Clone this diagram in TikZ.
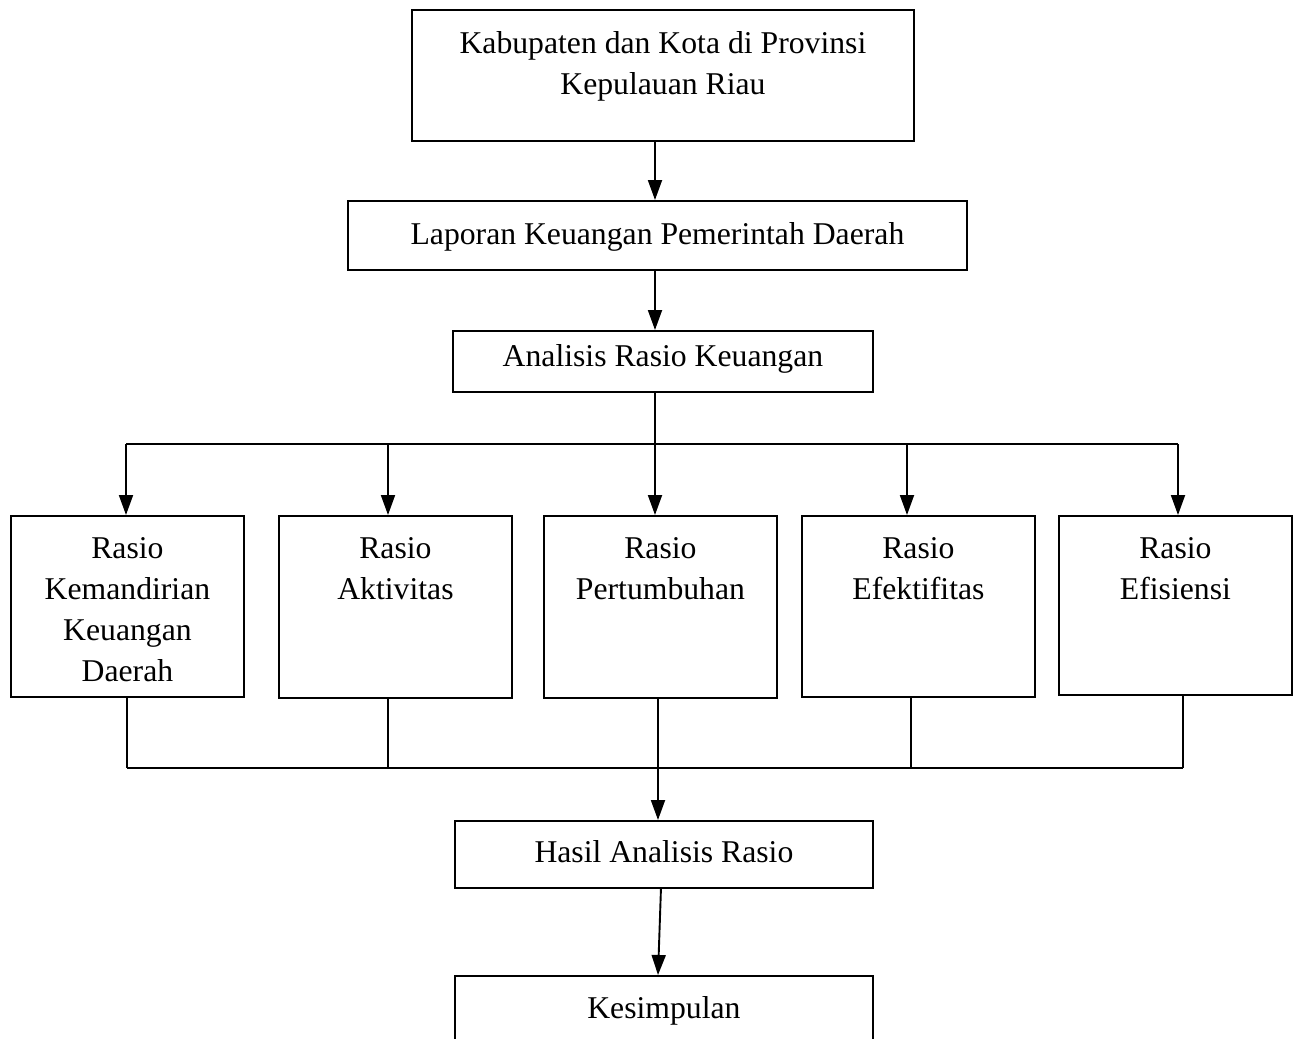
\documentclass[tikz,border=0pt]{standalone}
\usepackage{fontspec}
\setmainfont{Liberation Serif}
\usetikzlibrary{arrows.meta}
\newcommand{\boxtext}[4]{\parbox[c][#2pt][t]{#1pt}{\centering\fontsize{31.7}{41}\selectfont\rule{0pt}{#3pt}#4}}
\begin{document}
\begin{tikzpicture}[x=1pt,y=-1pt,
  box/.style={draw, line width=1.9pt, inner sep=0pt, anchor=north west},
  conn/.style={line width=1.9pt},
  arr/.style={conn, -{Triangle[width=14pt,length=20pt]}}]
\clip (0,0) rectangle (1294,1039);
\useasboundingbox (0,0) rectangle (1294,1039);
\node[box] (top) at (411,9) {\boxtext{502}{131}{44}{Kabupaten dan Kota di Provinsi\\Kepulauan Riau}};
\node[box] (lap) at (347,200) {\boxtext{619}{69}{44}{Laporan Keuangan Pemerintah Daerah}};
\node[box] (ana) at (452,330) {\boxtext{420}{61}{36}{Analisis Rasio Keuangan}};
\node[box] (r1) at (10,515) {\boxtext{233}{181}{43}{Rasio\\Kemandirian\\Keuangan\\Daerah}};
\node[box] (r2) at (278,515) {\boxtext{233}{182}{43}{Rasio\\Aktivitas}};
\node[box] (r3) at (543,515) {\boxtext{233}{182}{43}{Rasio\\Pertumbuhan}};
\node[box] (r4) at (801,515) {\boxtext{233}{181}{43}{Rasio\\Efektifitas}};
\node[box] (r5) at (1058,515) {\boxtext{233}{179}{43}{Rasio\\Efisiensi}};
\node[box] (has) at (454,820) {\boxtext{418}{67}{42}{Hasil Analisis Rasio}};
\node[box] (kes) at (454,975) {\boxtext{418}{90}{43}{Kesimpulan}};
% branch coordinates
\coordinate (a1) at (126,444);
\coordinate (a2) at (388,444);
\coordinate (a3) at (655,444);
\coordinate (a4) at (907,444);
\coordinate (a5) at (1178,444);
% top arrows
\draw[arr] (a3 |- top.south) -- (a3 |- lap.north);
\draw[arr] (a3 |- lap.south) -- (a3 |- ana.north);
% branch
\draw[conn] (a3 |- ana.south) -- (a3);
\draw[conn] (a1) -- (a5);
\draw[arr] (a1) -- (a1 |- r1.north);
\draw[arr] (a2) -- (a2 |- r2.north);
\draw[arr] (a3) -- (a3 |- r3.north);
\draw[arr] (a4) -- (a4 |- r4.north);
\draw[arr] (a5) -- (a5 |- r5.north);
% merge
\coordinate (b1) at (127,768);
\coordinate (b2) at (388,768);
\coordinate (b3) at (658,768);
\coordinate (b4) at (911,768);
\coordinate (b5) at (1183,768);
\draw[conn] (b1 |- r1.south) -- (b1);
\draw[conn] (b2 |- r2.south) -- (b2);
\draw[conn] (b3 |- r3.south) -- (b3);
\draw[conn] (b4 |- r4.south) -- (b4);
\draw[conn] (b5 |- r5.south) -- (b5);
\draw[conn] (b1) -- (b5);
\draw[arr] (b3) -- (b3 |- has.north);
\draw[arr] ([xshift=-3pt]has.south) -- (b3 |- kes.north);
\end{tikzpicture}
\end{document}
